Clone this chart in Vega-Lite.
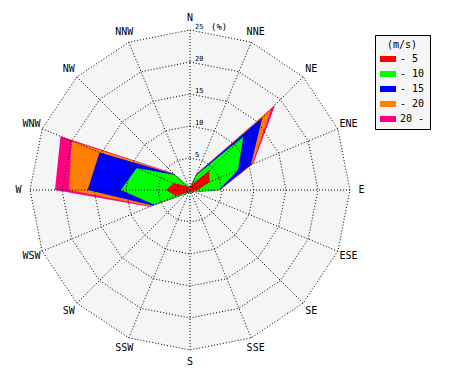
{
  "$schema": "https://vega.github.io/schema/vega-lite/v6.json",
  "width": 320,
  "height": 320,
  "autosize": {"type": "none"},
  "padding": {"left": 30, "top": 30, "right": 120, "bottom": 30},
  "background": "#ffffff",
  "config": {
    "font": "DejaVu Sans Mono",
    "view": {"stroke": null},
    "legend": {
      "orient": "none",
      "legendX": 345,
      "legendY": 5,
      "padding": 5,
      "fillColor": "#f5f5f5",
      "strokeColor": "#000000",
      "titleFont": "DejaVu Sans Mono",
      "titleFontSize": 10,
      "titleFontWeight": "normal",
      "titleColor": "#000000",
      "titleAnchor": "middle",
      "titlePadding": 4,
      "labelFont": "DejaVu Sans Mono",
      "labelFontSize": 10,
      "labelColor": "#000000",
      "labelOffset": 7,
      "symbolType": "M-1.6,-0.6H1.6V0.6H-1.6Z",
      "symbolSize": 100,
      "symbolStrokeWidth": 0,
      "symbolOffset": 3,
      "rowPadding": 5
    }
  },
  "datasets": {
    "wind": [
      {"dir": "N", "i": 0, "- 5": 0.4, "- 10": 0.5, "- 15": 0.5, "- 20": 0.5, "20 -": 0.5},
      {"dir": "NNE", "i": 1, "- 5": 1.0, "- 10": 2.5, "- 15": 2.7, "- 20": 2.7, "20 -": 2.8},
      {"dir": "NE", "i": 2, "- 5": 4.3, "- 10": 11.8, "- 15": 16.0, "- 20": 18.0, "20 -": 18.8},
      {"dir": "ENE", "i": 3, "- 5": 3.3, "- 10": 8.1, "- 15": 10.3, "- 20": 10.5, "20 -": 10.7},
      {"dir": "E", "i": 4, "- 5": 1.2, "- 10": 4.5, "- 15": 4.6, "- 20": 4.7, "20 -": 4.7},
      {"dir": "ESE", "i": 5, "- 5": 0.5, "- 10": 0.8, "- 15": 0.8, "- 20": 0.8, "20 -": 0.8},
      {"dir": "SE", "i": 6, "- 5": 0.4, "- 10": 0.5, "- 15": 0.5, "- 20": 0.5, "20 -": 0.5},
      {"dir": "SSE", "i": 7, "- 5": 0.3, "- 10": 0.4, "- 15": 0.4, "- 20": 0.4, "20 -": 0.4},
      {"dir": "S", "i": 8, "- 5": 0.3, "- 10": 0.4, "- 15": 0.4, "- 20": 0.4, "20 -": 0.4},
      {"dir": "SSW", "i": 9, "- 5": 0.3, "- 10": 0.4, "- 15": 0.4, "- 20": 0.4, "20 -": 0.4},
      {"dir": "SW", "i": 10, "- 5": 0.5, "- 10": 0.8, "- 15": 0.9, "- 20": 0.9, "20 -": 0.9},
      {"dir": "WSW", "i": 11, "- 5": 2.5, "- 10": 6.0, "- 15": 6.3, "- 20": 6.6, "20 -": 6.8},
      {"dir": "W", "i": 12, "- 5": 3.75, "- 10": 10.8, "- 15": 16.0, "- 20": 18.9, "20 -": 21.1},
      {"dir": "WNW", "i": 13, "- 5": 2.8, "- 10": 9.0, "- 15": 15.3, "- 20": 20.0, "20 -": 21.9},
      {"dir": "NW", "i": 14, "- 5": 1.0, "- 10": 3.3, "- 15": 3.5, "- 20": 3.6, "20 -": 3.7},
      {"dir": "NNW", "i": 15, "- 5": 0.4, "- 10": 0.6, "- 15": 0.6, "- 20": 0.6, "20 -": 0.6}
    ],
    "rings": [
      {"ring": 5, "i": [0, 1, 2, 3, 4, 5, 6, 7, 8, 9, 10, 11, 12, 13, 14, 15]},
      {"ring": 10, "i": [0, 1, 2, 3, 4, 5, 6, 7, 8, 9, 10, 11, 12, 13, 14, 15]},
      {"ring": 15, "i": [0, 1, 2, 3, 4, 5, 6, 7, 8, 9, 10, 11, 12, 13, 14, 15]},
      {"ring": 20, "i": [0, 1, 2, 3, 4, 5, 6, 7, 8, 9, 10, 11, 12, 13, 14, 15]},
      {"ring": 25, "i": [0, 1, 2, 3, 4, 5, 6, 7, 8, 9, 10, 11, 12, 13, 14, 15]}
    ],
    "spokes": [
      {"i": 0, "r": [0, 25]}, {"i": 1, "r": [0, 25]}, {"i": 2, "r": [0, 25]}, {"i": 3, "r": [0, 25]},
      {"i": 4, "r": [0, 25]}, {"i": 5, "r": [0, 25]}, {"i": 6, "r": [0, 25]}, {"i": 7, "r": [0, 25]},
      {"i": 8, "r": [0, 25]}, {"i": 9, "r": [0, 25]}, {"i": 10, "r": [0, 25]}, {"i": 11, "r": [0, 25]},
      {"i": 12, "r": [0, 25]}, {"i": 13, "r": [0, 25]}, {"i": 14, "r": [0, 25]}, {"i": 15, "r": [0, 25]}
    ],
    "ticks": [
      {"r": 5, "t": "5"},
      {"r": 10, "t": "10"},
      {"r": 15, "t": "15"},
      {"r": 20, "t": "20"},
      {"r": 25, "t": "25"}
    ]
  },
  "layer": [
    {
      "data": {"name": "rings"},
      "transform": [
        {"filter": "datum.ring === 25"},
        {"flatten": ["i"]},
        {"calculate": "datum.ring * sin(datum.i * PI / 8)", "as": "x"},
        {"calculate": "datum.ring * cos(datum.i * PI / 8)", "as": "y"}
      ],
      "mark": {"type": "line", "interpolate": "linear-closed", "fill": "#f5f5f5", "strokeWidth": 0},
      "encoding": {
        "x": {"field": "x", "type": "quantitative", "scale": {"domain": [-25, 25], "nice": false}, "axis": null},
        "y": {"field": "y", "type": "quantitative", "scale": {"domain": [-25, 25], "nice": false}, "axis": null},
        "order": {"field": "i", "type": "quantitative"}
      }
    },
    {
      "data": {"name": "wind"},
      "transform": [
        {"fold": ["- 5", "- 10", "- 15", "- 20", "20 -"], "as": ["cls", "v"]},
        {"calculate": "datum.v * sin(datum.i * PI / 8)", "as": "x"},
        {"calculate": "datum.v * cos(datum.i * PI / 8)", "as": "y"}
      ],
      "encoding": {
        "x": {"field": "x", "type": "quantitative", "scale": {"domain": [-25, 25], "nice": false}, "axis": null},
        "y": {"field": "y", "type": "quantitative", "scale": {"domain": [-25, 25], "nice": false}, "axis": null},
        "order": {"field": "i", "type": "quantitative"},
        "fill": {
          "field": "cls",
          "type": "nominal",
          "scale": {"domain": ["- 5", "- 10", "- 15", "- 20", "20 -"], "range": ["#ff0000", "#00ff00", "#0000ff", "#ff8000", "#ff0080"]},
          "legend": {
            "title": "\u00a0\u00a0\u00a0(m/s)\u00a0\u00a0\u00a0",
            "titleFontWeight": "normal",
            "encode": {"legend": {"update": {"strokeDash": {"value": [1, 2]}}}}
          }
        }
      },
      "layer": [
        {"transform": [{"filter": "datum.cls === '20 -'"}], "mark": {"type": "line", "interpolate": "linear-closed", "strokeWidth": 0}},
        {"transform": [{"filter": "datum.cls === '- 20'"}], "mark": {"type": "line", "interpolate": "linear-closed", "strokeWidth": 0}},
        {"transform": [{"filter": "datum.cls === '- 15'"}], "mark": {"type": "line", "interpolate": "linear-closed", "strokeWidth": 0}},
        {"transform": [{"filter": "datum.cls === '- 10'"}], "mark": {"type": "line", "interpolate": "linear-closed", "strokeWidth": 0}},
        {"transform": [{"filter": "datum.cls === '- 5'"}], "mark": {"type": "line", "interpolate": "linear-closed", "strokeWidth": 0}}
      ]
    },
    {
      "data": {"name": "rings"},
      "transform": [
        {"flatten": ["i"]},
        {"calculate": "datum.ring * sin(datum.i * PI / 8)", "as": "x"},
        {"calculate": "datum.ring * cos(datum.i * PI / 8)", "as": "y"}
      ],
      "mark": {"type": "line", "interpolate": "linear-closed", "stroke": "#000000", "strokeWidth": 1, "strokeDash": [1, 2]},
      "encoding": {
        "x": {"field": "x", "type": "quantitative", "scale": {"domain": [-25, 25], "nice": false}, "axis": null},
        "y": {"field": "y", "type": "quantitative", "scale": {"domain": [-25, 25], "nice": false}, "axis": null},
        "detail": {"field": "ring", "type": "nominal"},
        "order": {"field": "i", "type": "quantitative"}
      }
    },
    {
      "data": {"name": "spokes"},
      "transform": [
        {"flatten": ["r"]},
        {"calculate": "datum.r * sin(datum.i * PI / 8)", "as": "x"},
        {"calculate": "datum.r * cos(datum.i * PI / 8)", "as": "y"}
      ],
      "mark": {"type": "line", "stroke": "#000000", "strokeWidth": 1, "strokeDash": [1, 2]},
      "encoding": {
        "x": {"field": "x", "type": "quantitative", "scale": {"domain": [-25, 25], "nice": false}, "axis": null},
        "y": {"field": "y", "type": "quantitative", "scale": {"domain": [-25, 25], "nice": false}, "axis": null},
        "detail": {"field": "i", "type": "nominal"},
        "order": {"field": "r", "type": "quantitative"}
      }
    },
    {
      "data": {"name": "wind"},
      "transform": [
        {"calculate": "26.8 * sin(datum.i * PI / 8)", "as": "lx"},
        {"calculate": "26.8 * cos(datum.i * PI / 8)", "as": "ly"}
      ],
      "mark": {"type": "text", "font": "DejaVu Sans Mono", "fontSize": 10, "color": "#000000", "align": "center", "baseline": "middle"},
      "encoding": {
        "x": {"field": "lx", "type": "quantitative", "scale": {"domain": [-25, 25], "nice": false}, "axis": null},
        "y": {"field": "ly", "type": "quantitative", "scale": {"domain": [-25, 25], "nice": false}, "axis": null},
        "text": {"field": "dir"}
      }
    },
    {
      "data": {"name": "ticks"},
      "transform": [{"calculate": "0 * datum.r", "as": "x0"}],
      "mark": {"type": "text", "font": "DejaVu Sans Mono", "fontSize": 7, "color": "#000000", "align": "left", "baseline": "alphabetic", "dx": 5, "dy": -1},
      "encoding": {
        "x": {"field": "x0", "type": "quantitative", "scale": {"domain": [-25, 25], "nice": false}, "axis": null},
        "y": {"field": "r", "type": "quantitative", "scale": {"domain": [-25, 25], "nice": false}, "axis": null},
        "text": {"field": "t"}
      }
    },
    {
      "data": {"values": [{"t": "(%)", "r": 25}]},
      "transform": [{"calculate": "0 * datum.r", "as": "x0"}],
      "mark": {"type": "text", "font": "DejaVu Sans Mono", "fontSize": 9, "color": "#000000", "align": "left", "baseline": "alphabetic", "dx": 21, "dy": 0},
      "encoding": {
        "x": {"field": "x0", "type": "quantitative", "scale": {"domain": [-25, 25], "nice": false}, "axis": null},
        "y": {"field": "r", "type": "quantitative", "scale": {"domain": [-25, 25], "nice": false}, "axis": null},
        "text": {"field": "t"}
      }
    }
  ]
}
